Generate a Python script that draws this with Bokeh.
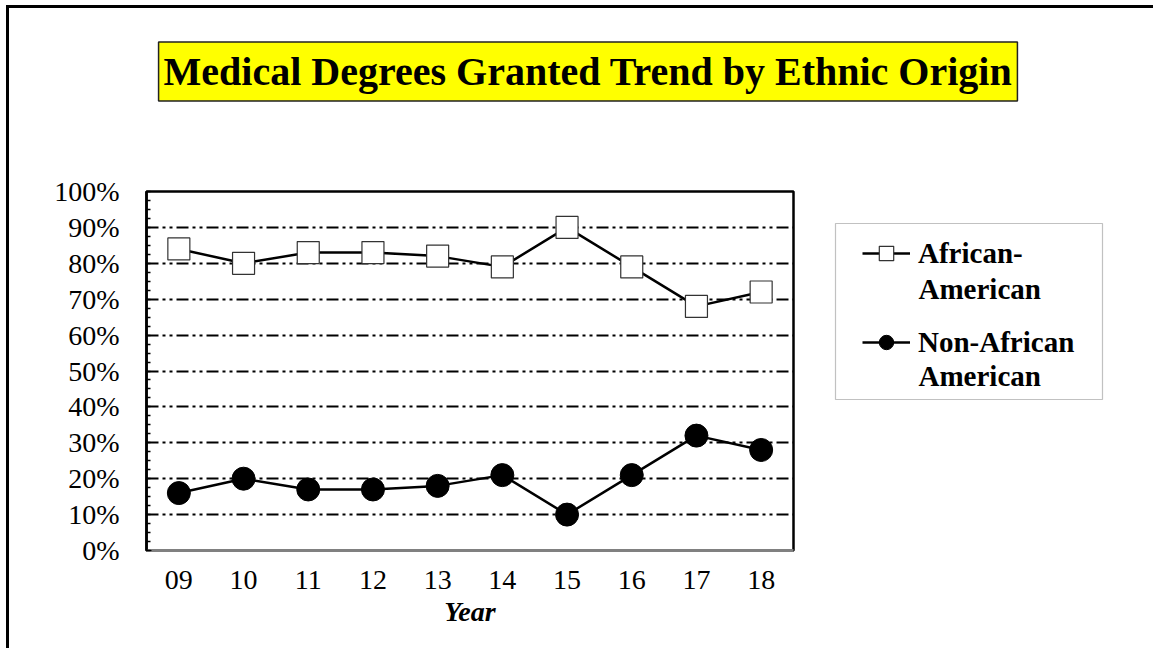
from bokeh.plotting import figure
from bokeh.layouts import column, row
from bokeh.models import (FixedTicker, PrintfTickFormatter, Label, BoxAnnotation,
                          Legend, LegendItem, Range1d)
from bokeh.embed import file_html
from bokeh.resources import INLINE

years = ["09", "10", "11", "12", "13", "14", "15", "16", "17", "18"]
african_american = [84, 80, 83, 83, 82, 79, 90, 79, 68, 72]
non_african_american = [16, 20, 17, 17, 18, 21, 10, 21, 32, 28]
y_ticks = [0, 10, 20, 30, 40, 50, 60, 70, 80, 90, 100]
title_text = "Medical Degrees Granted Trend by Ethnic Origin"
x_label = "Year"
legend_lines = [["African-", "American"], ["Non-African", "American"]]

SERIF = "Liberation Serif"
TOTAL_W = 1144


def style_blank(f):
    f.grid.grid_line_color = None
    f.outline_line_color = None
    f.background_fill_color = "white"
    f.border_fill_color = "white"
    return f


# ---------- title strip ----------
TH = 150
tfig = style_blank(figure(width=TOTAL_W, height=TH,
                          x_range=Range1d(0, 1), y_range=Range1d(0, 1),
                          output_backend="svg", toolbar_location=None,
                          x_axis_location=None, y_axis_location=None,
                          min_border_left=0, min_border_right=0,
                          min_border_top=0, min_border_bottom=0))
tfig.add_layout(Label(x=578.5, y=TH - 63, x_units="screen", y_units="screen",
                      text=title_text, text_font=SERIF, text_font_size="40px",
                      text_font_style="bold", text_color="black",
                      text_align="center", text_baseline="middle",
                      background_fill_color="yellow",
                      border_line_color="#222222", border_line_width=1.5,
                      padding=(5, 7)))

# ---------- main chart ----------
PW, PH = 792, 490
p = figure(width=PW, height=PH, x_range=years, y_range=Range1d(0, 100),
           output_backend="svg", toolbar_location=None,
           min_border_left=137, min_border_right=PW - 137 - 647,
           min_border_top=33, min_border_bottom=PH - 33 - 359)

p.background_fill_color = "white"
p.border_fill_color = "white"
p.outline_line_color = "black"
p.outline_line_width = 2.5

p.xgrid.grid_line_color = None
p.ygrid.ticker = FixedTicker(ticks=y_ticks[1:])
p.ygrid.grid_line_color = "black"
p.ygrid.grid_line_width = 2
p.ygrid.grid_line_dash = "12 4 3 4 3 4"

p.yaxis.ticker = FixedTicker(ticks=y_ticks,
                             minor_ticks=[v / 2.0 for v in range(0, 201, 5)])
p.yaxis.formatter = PrintfTickFormatter(format="%d%%")
p.yaxis.axis_line_color = "black"
p.yaxis.axis_line_width = 2.5
p.yaxis.major_tick_in = 5
p.yaxis.major_tick_out = 0
p.yaxis.minor_tick_in = 4
p.yaxis.minor_tick_out = 0
p.yaxis.major_tick_line_color = "black"
p.yaxis.minor_tick_line_color = "black"
p.yaxis.minor_tick_line_width = 1.5
p.yaxis.major_label_text_font = SERIF
p.yaxis.major_label_text_font_size = "28px"
p.yaxis.major_label_text_color = "black"
p.yaxis.major_label_standoff = 27

p.xaxis.axis_line_color = "#808080"
p.xaxis.axis_line_width = 3
p.xaxis.major_tick_line_color = None
p.xaxis.minor_tick_line_color = None
p.xaxis.major_label_text_font = SERIF
p.xaxis.major_label_text_font_size = "28px"
p.xaxis.major_label_text_color = "black"
p.xaxis.major_label_standoff = 14
p.xaxis.axis_label = x_label
p.xaxis.axis_label_text_font = SERIF
p.xaxis.axis_label_text_font_size = "28px"
p.xaxis.axis_label_text_font_style = "bold italic"
p.xaxis.axis_label_text_color = "black"
p.xaxis.axis_label_standoff = 4

LINE = dict(line_color="black", line_width=2.5)
SQUARE = dict(marker="square", size=22, fill_color="white",
              line_color="#333333", line_width=1.2)
CIRCLE = dict(marker="circle", size=23, fill_color="black", line_color="black")

p.line(years, african_american, **LINE)
p.scatter(years, african_american, **SQUARE)
p.line(years, non_african_american, **LINE)
p.scatter(years, non_african_american, **CIRCLE)

# ---------- legend strip (its frame is aligned with the chart frame) ----------
LW = TOTAL_W - PW
lfig = style_blank(figure(width=LW, height=PH, x_range=years,
                          y_range=Range1d(200, 300),
                          output_backend="svg", toolbar_location=None,
                          x_axis_location=None, y_axis_location=None,
                          min_border_left=0, min_border_right=0,
                          min_border_top=33, min_border_bottom=PH - 33 - 359))
# legend proxies: same series, kept outside the visible y range of this strip
ll1 = lfig.line(years, african_american, **LINE)
ls1 = lfig.scatter(years, african_american, **SQUARE)
ll2 = lfig.line(years, non_african_american, **LINE)
ls2 = lfig.scatter(years, non_african_american, **CIRCLE)

# frame-relative screen coordinates (frame bottom = chart frame bottom)
lfig.add_layout(BoxAnnotation(left=34, right=301, top=327, bottom=151,
                              left_units="screen", right_units="screen",
                              top_units="screen", bottom_units="screen",
                              fill_color="white", fill_alpha=1,
                              line_color="#333333", line_width=1.2))

legend = Legend(items=[LegendItem(label=legend_lines[0][0], renderers=[ll1, ls1]),
                       LegendItem(label=legend_lines[1][0], renderers=[ll2, ls2])],
                location=(61, 190), orientation="vertical",
                glyph_width=48, glyph_height=36, label_height=36,
                label_standoff=8, spacing=53, padding=0, margin=0,
                border_line_color=None, background_fill_alpha=0,
                label_text_font=SERIF, label_text_font_size="29px",
                label_text_font_style="bold", label_text_color="black")
lfig.add_layout(legend, "center")

for line_pair, yy in zip(legend_lines, [262, 175]):
    lfig.add_layout(Label(x=117, y=yy, x_units="screen", y_units="screen",
                          text=line_pair[1], text_font=SERIF,
                          text_font_size="29px", text_font_style="bold",
                          text_color="black", text_align="left",
                          text_baseline="middle"))

layout = column(tfig, row(p, lfig, spacing=0), spacing=0)
layout.styles = {"margin-left": "6px", "margin-top": "5px",
                 "border-left": "3px solid black", "border-top": "3px solid black"}

open("out.html", "w").write(file_html(layout, INLINE))
